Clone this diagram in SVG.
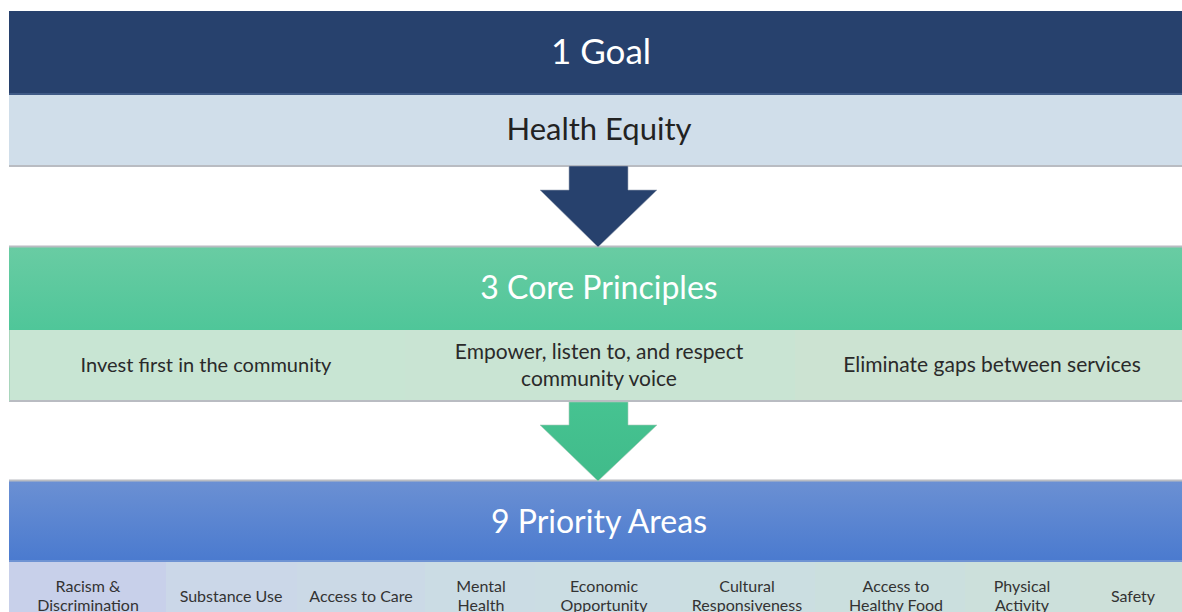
<svg xmlns="http://www.w3.org/2000/svg" width="1182" height="612" viewBox="0 0 1182 612">
<defs>
<linearGradient id="gGreen" x1="0" y1="0" x2="0" y2="1"><stop offset="0" stop-color="#69cca3"/><stop offset="1" stop-color="#4fc699"/></linearGradient>
<linearGradient id="gBlue" x1="0" y1="0" x2="0" y2="1"><stop offset="0" stop-color="#6b90d3"/><stop offset="1" stop-color="#4a7acf"/></linearGradient>
<linearGradient id="gArrowG" x1="0" y1="0" x2="0" y2="1"><stop offset="0" stop-color="#46c391"/><stop offset="1" stop-color="#40bb8a"/></linearGradient>
<style>
.t{font-family:Lato,"Noto Sans","Liberation Sans",sans-serif;text-anchor:middle}
.head{fill:#ffffff;font-size:32px}
.goal{fill:#ffffff;font-size:35px}
.sub{fill:#222222;font-size:31px}
.prin{fill:#2a2a2a;font-size:21px}
.area{fill:#333333;font-size:16px}
.edge{stroke:#b9bcc2;stroke-width:2}
</style>
</defs>
<rect width="1182" height="612" fill="#ffffff"/>

<g id="goal">
<rect x="9" y="11" width="1173" height="83" fill="#27416d"/>
<rect x="9" y="93" width="1173" height="2" fill="#3f5a86"/>
<text class="t goal" x="601" y="64">1 Goal</text>
</g>

<g id="health-equity">
<rect x="9" y="95" width="1173" height="71" fill="#d0deea"/>
<line class="edge" x1="9" y1="166" x2="1182" y2="166"/>
<text class="t sub" x="599" y="140">Health Equity</text>
</g>

<g id="core-principles">
<rect x="9" y="247" width="1173" height="83" fill="url(#gGreen)"/>
<line class="edge" x1="9" y1="246.5" x2="1182" y2="246.5" stroke-width="1"/>
<text class="t head" x="599" y="299">3 Core Principles</text>
</g>

<g id="principle-1">
<rect x="9" y="330" width="396" height="71" fill="#c8e5d3"/>
<text class="t prin" x="206" y="372" style="font-size:20px">Invest first in the community</text>
</g>
<g id="principle-2">
<rect x="405" y="330" width="390" height="71" fill="#c9e4d3"/>
<text class="t prin" x="599" y="359">Empower, listen to, and respect</text>
<text class="t prin" x="599" y="386">community voice</text>
</g>
<g id="principle-3">
<rect x="795" y="330" width="387" height="71" fill="#cce3d2"/>
<text class="t prin" x="992" y="372">Eliminate gaps between services</text>
</g>
<line class="edge" x1="9" y1="401" x2="1182" y2="401"/>
<line x1="9.5" y1="330" x2="9.5" y2="401" stroke="#a9d6bd" stroke-width="1"/>

<g id="priority-areas">
<rect x="9" y="481" width="1173" height="81" fill="url(#gBlue)"/>
<line class="edge" x1="9" y1="480.5" x2="1182" y2="480.5" stroke-width="1"/>
<rect x="9" y="560" width="1173" height="2" fill="#6f93d3"/>
<text class="t head" x="599" y="533">9 Priority Areas</text>
</g>

<g id="area-1"><rect x="9" y="562" width="157" height="50" fill="#c8d0ea"/>
<text class="t area" x="88" y="592">Racism &amp;</text><text class="t area" x="88" y="611">Discrimination</text></g>
<g id="area-2"><rect x="166" y="562" width="131" height="50" fill="#cbd7e8"/>
<text class="t area" x="231" y="602">Substance Use</text></g>
<g id="area-3"><rect x="297" y="562" width="128" height="50" fill="#cbd9e6"/>
<text class="t area" x="361" y="602">Access to Care</text></g>
<g id="area-4"><rect x="425" y="562" width="110" height="50" fill="#cbdce4"/>
<text class="t area" x="481" y="592">Mental</text><text class="t area" x="481" y="611">Health</text></g>
<g id="area-5"><rect x="535" y="562" width="145" height="50" fill="#cbdde3"/>
<text class="t area" x="604" y="592">Economic</text><text class="t area" x="604" y="611">Opportunity</text></g>
<g id="area-6"><rect x="680" y="562" width="135" height="50" fill="#cbdee1"/>
<text class="t area" x="747" y="592">Cultural</text><text class="t area" x="747" y="611">Responsiveness</text></g>
<g id="area-7"><rect x="815" y="562" width="150" height="50" fill="#cbdfde"/>
<text class="t area" x="896" y="592">Access to</text><text class="t area" x="896" y="611">Healthy Food</text></g>
<g id="area-8"><rect x="965" y="562" width="115" height="50" fill="#cce0db"/>
<text class="t area" x="1022" y="592">Physical</text><text class="t area" x="1022" y="611">Activity</text></g>
<g id="area-9"><rect x="1080" y="562" width="102" height="50" fill="#cde0d9"/>
<text class="t area" x="1133" y="602">Safety</text></g>

<g id="connectors">
<polygon points="569,166 628,166 628,190 657,190 598,247 540,190 569,190" fill="#27416d" stroke="#a0a8b8" stroke-width="0.6"/>
<polygon points="569,402 628,402 628,425 657,425 598,481 540,425 569,425" fill="url(#gArrowG)" stroke="#a9c9b9" stroke-width="0.6"/>
</g>
</svg>
